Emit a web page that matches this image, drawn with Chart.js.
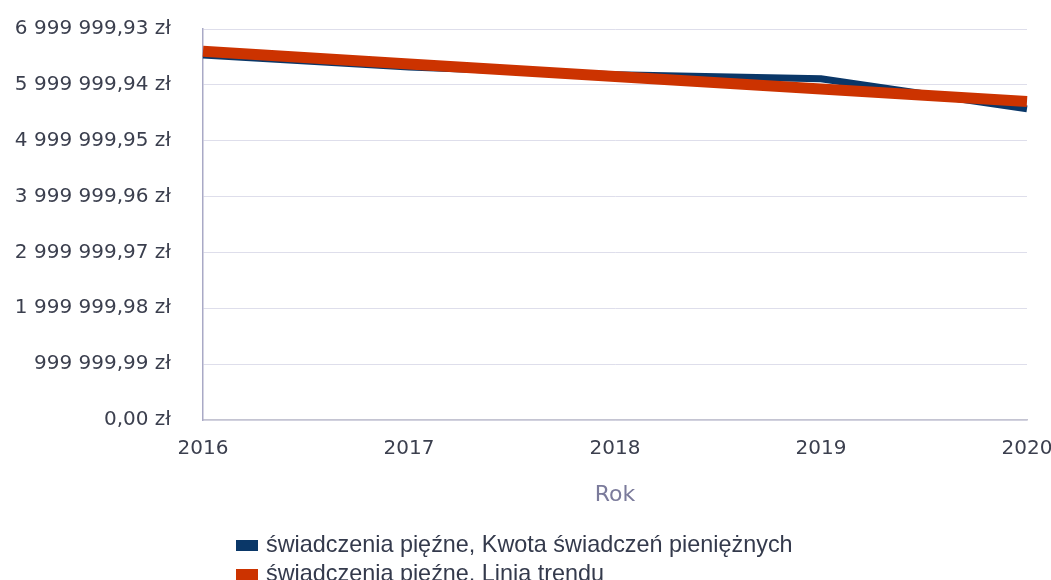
<!DOCTYPE html>
<html>
<head>
<meta charset="utf-8">
<script src="https://cdn.jsdelivr.net/npm/chart.js@4/dist/chart.umd.min.js"></script>
<style>
  html, body { margin: 0; padding: 0; background: #fff; }
  #wrap { width: 1051px; height: 580px; }
</style>
</head>
<body>
<div id="wrap"><canvas id="benefitsChart"></canvas></div>
<script>
var years = ['2016', '2017', '2018', '2019', '2020'];
var amounts = [6535000, 6320000, 6180000, 6110000, 5570000];
var trend = [6600000, 6375000, 6150000, 5925000, 5700000];
var yTicks = [0, 999999.99, 1999999.98, 2999999.97, 3999999.96, 4999999.95, 5999999.94, 6999999.93];
var seriesNames = ['świadczenia pięźne, Kwota świadczeń pieniężnych', 'świadczenia pięźne, Linia trendu'];
var seriesColors = ['#0a3768', '#cc3300'];

function formatZl(v) {
    var parts = v.toFixed(2).split('.');
    var intPart = parts[0].replace(/\B(?=(\d{3})+(?!\d))/g, ' ');
    return intPart + ',' + parts[1] + ' zł';
}

// legend drawn by hand so both rows start at the same x
var leftLegend = {
    id: 'leftLegend',
    afterDraw: function (chart) {
        var ctx = chart.ctx;
        ctx.save();
        ctx.font = '23.4px "Liberation Sans", Arial, sans-serif';
        ctx.textBaseline = 'middle';
        for (var i = 0; i < seriesNames.length; i++) {
            var top = 540 + i * 29;
            ctx.fillStyle = seriesColors[i];
            ctx.fillRect(236, top, 22, 11);
            ctx.fillStyle = '#343a4c';
            ctx.fillText(seriesNames[i], 266, top + 6);
        }
        ctx.restore();
    }
};

var ctx = document.getElementById('benefitsChart').getContext('2d');
var benefitsChart = new Chart(ctx, {
    type: 'line',
    data: {
        labels: years,
        datasets: [{
            label: seriesNames[0],
            data: amounts,
            borderColor: seriesColors[0],
            backgroundColor: seriesColors[0],
            borderWidth: 7,
            pointRadius: 0,
            tension: 0,
            order: 1
        }, {
            label: seriesNames[1],
            data: trend,
            borderColor: seriesColors[1],
            backgroundColor: seriesColors[1],
            borderWidth: 11,
            pointRadius: 0,
            tension: 0,
            order: 0
        }]
    },
    options: {
        responsive: true,
        maintainAspectRatio: false,
        animation: false,
        layout: {
            padding: { left: 0, right: 24, top: 29, bottom: 60 }
        },
        plugins: {
            legend: { display: false },
            tooltip: { enabled: false }
        },
        scales: {
            x: {
                offset: false,
                grid: { display: false },
                border: { display: true, color: '#c4c4d2', width: 1.5 },
                ticks: {
                    padding: 9,
                    color: '#3b3f4e',
                    font: { family: '"DejaVu Sans", sans-serif', size: 20 }
                },
                title: {
                    display: true,
                    text: 'Rok',
                    color: '#7b7b9b',
                    font: { family: '"DejaVu Sans", sans-serif', size: 22 },
                    padding: { top: 0, bottom: 12 }
                },
                afterFit: function (scale) {
                    scale.height = 100;
                    scale.paddingLeft = 0;
                    scale.paddingRight = 0;
                }
            },
            y: {
                min: 0,
                max: yTicks[yTicks.length - 1],
                grid: { color: '#dedeeb', drawTicks: false },
                border: { display: true, color: '#a9a9c6', width: 1.5 },
                afterBuildTicks: function (axis) {
                    axis.ticks = yTicks.map(function (v) { return { value: v }; });
                },
                ticks: {
                    padding: 32,
                    color: '#3b3f4e',
                    font: { family: '"DejaVu Sans", sans-serif', size: 20 },
                    callback: function (value) { return formatZl(value); }
                },
                afterFit: function (scale) {
                    scale.width = 203;
                    scale.paddingTop = 0;
                    scale.paddingBottom = 0;
                }
            }
        }
    },
    plugins: [leftLegend]
});
</script>
</body>
</html>
